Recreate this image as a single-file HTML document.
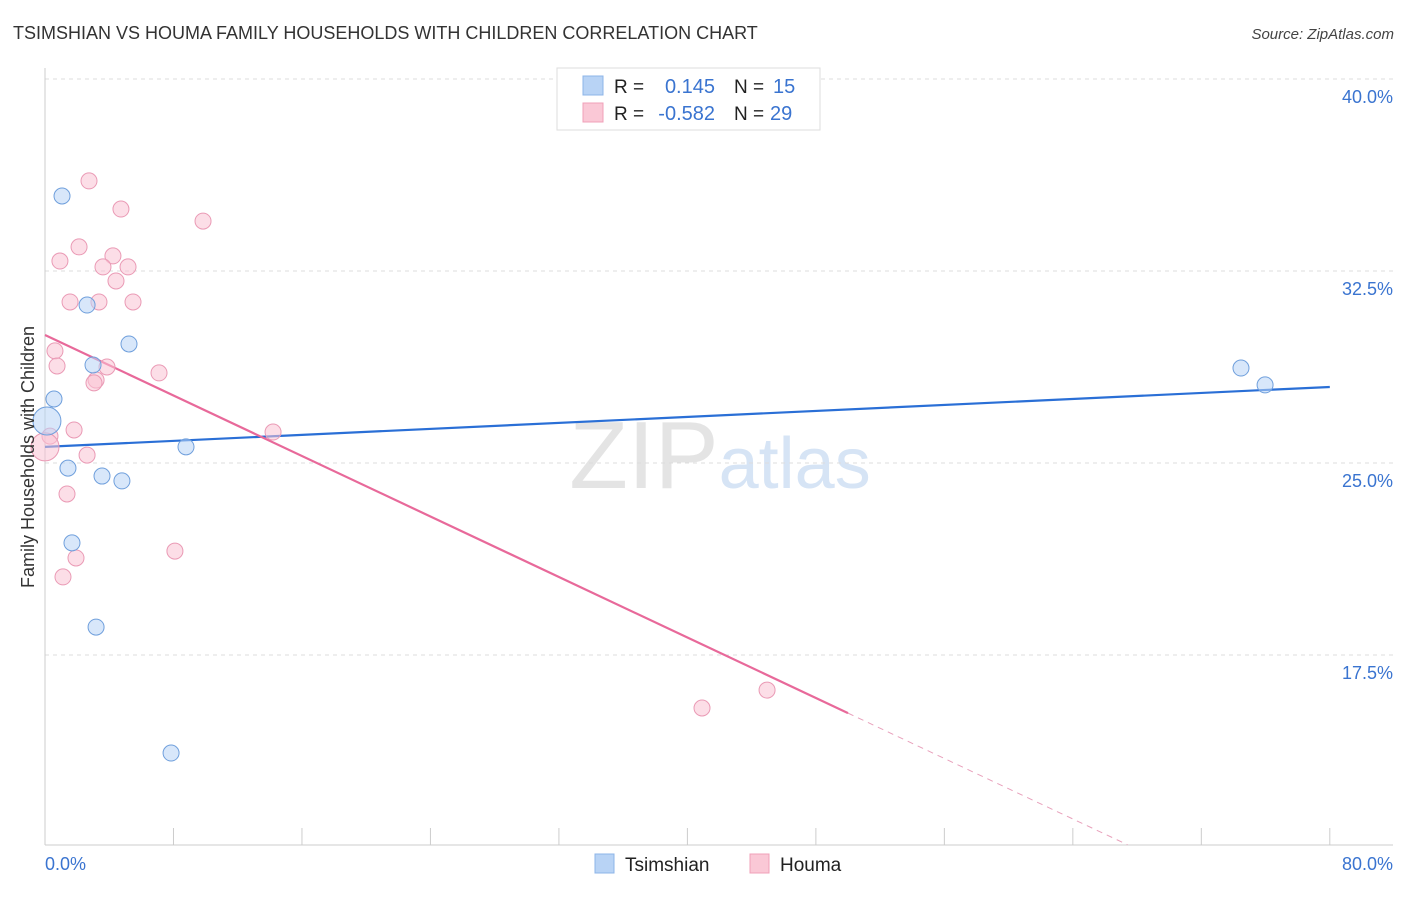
<!DOCTYPE html>
<html><head><meta charset="utf-8"><style>
body{margin:0;background:#fff;font-family:"Liberation Sans",sans-serif;}
svg text{font-family:"Liberation Sans",sans-serif;}
</style></head><body>
<svg id="chart" width="1406" height="892" xmlns="http://www.w3.org/2000/svg">
<text x="13" y="39" font-size="18" fill="#333">TSIMSHIAN VS HOUMA FAMILY HOUSEHOLDS WITH CHILDREN CORRELATION CHART</text>
<text x="1394" y="39" font-size="15" fill="#444" text-anchor="end" font-style="italic">Source: ZipAtlas.com</text>
<text x="720" y="488" font-size="96" text-anchor="middle" fill="#e4e4e4" font-family="Liberation Serif">ZIP<tspan fill="#d6e4f5" font-family="Liberation Sans" font-size="72">atlas</tspan></text>
<g id="grid"></g><g id="axes"></g><g id="lines"></g><g id="points"></g>
<text transform="translate(34,457) rotate(-90)" font-size="18" fill="#333" text-anchor="middle">Family Households with Children</text>
<text x="45" y="870" font-size="18" fill="#3a74d0">0.0%</text>
<text x="1393" y="870" font-size="18" fill="#3a74d0" text-anchor="end">80.0%</text>
<g>
<rect x="557" y="68" width="263" height="62" fill="#fff" stroke="#ddd"/>
<rect x="583" y="76" width="20" height="19" fill="#b8d3f5" stroke="#8db4e8"/>
<rect x="583" y="103" width="20" height="19" fill="#fac8d6" stroke="#f0a0b8"/>
<text x="614" y="93" font-size="19" fill="#222">R =</text><text x="715" y="93" font-size="20" fill="#3a74d0" text-anchor="end">0.145</text>
<text x="734" y="93" font-size="19" fill="#222">N =</text><text x="773" y="93" font-size="20" fill="#3a74d0">15</text>
<text x="614" y="120" font-size="19" fill="#222">R =</text><text x="715" y="120" font-size="20" fill="#3a74d0" text-anchor="end">-0.582</text>
<text x="734" y="120" font-size="19" fill="#222">N =</text><text x="770" y="120" font-size="20" fill="#3a74d0">29</text>
</g>
<g>
<rect x="595" y="854" width="19" height="19" fill="#b8d3f5" stroke="#8db4e8"/>
<text x="625" y="871" font-size="19" fill="#222">Tsimshian</text>
<rect x="750" y="854" width="19" height="19" fill="#fac8d6" stroke="#f0a0b8"/>
<text x="780" y="871" font-size="19" fill="#222">Houma</text>
</g>
</svg>
<script>
const yTicks=[40,32.5,25,17.5];
const yTickLabels=["40.0%","32.5%","25.0%","17.5%"];
const xTicks=[0,8,16,24,32,40,48,56,64,72,80];
const blueX=[1.06,2.62,5.23,2.99,0.56,0.12,1.43,3.55,4.79,8.78,1.68,3.18,7.85,74.47,75.97];
const blueY=[35.43,31.17,29.65,28.83,27.5,26.64,24.8,24.49,24.3,25.63,21.88,18.59,13.67,28.71,28.05];
const pinkX=[2.74,4.73,9.84,2.12,0.93,4.23,3.61,5.17,4.42,1.56,3.36,5.48,0.62,0.75,3.86,3.18,3.05,7.10,0.31,1.81,2.62,14.2,1.37,1.93,1.12,8.09,44.96,40.91,0];
const pinkY=[36.02,34.92,34.45,33.44,32.89,33.09,32.66,32.66,32.11,31.29,31.29,31.29,29.38,28.79,28.75,28.24,28.13,28.52,26.05,26.29,25.31,26.21,23.79,21.29,20.55,21.56,16.13,15.43,25.63];
const blueLine=[[0,25.63],[80,27.97]];
const pinkLine=[[0,30.0],[50,15.23]];
const pinkDash=[[50,15.23],[67.4,10.09]];
const X=v=>45+v*16.06, Y=v=>463-(v-25)*25.6;
const NS="http://www.w3.org/2000/svg";
function mk(p,t,a){const e=document.createElementNS(NS,t);for(const k in a)e.setAttribute(k,a[k]);document.getElementById(p).appendChild(e);return e;}
yTicks.forEach((t,i)=>{
 const l=mk('grid','line',{x1:45,x2:1393,y1:Y(t),y2:Y(t),stroke:'#ddd','stroke-dasharray':'4,4'});
 
 
 const tx=mk('grid','text',{x:1393,y:Y(t)+24,'font-size':18,fill:'#3a74d0','text-anchor':'end'});
 tx.textContent=yTickLabels[i];
 
 
});
const ax=mk('axes','line',{x1:45,x2:45,y1:68,y2:845,stroke:'#ccc'});


const bx=mk('axes','line',{x1:45,x2:1393,y1:845,y2:845,stroke:'#ccc'});


xTicks.forEach(t=>{
 const l=mk('axes','line',{x1:X(t),x2:X(t),y1:828,y2:845,stroke:'#ccc'});
 
 
});
function ln(s,c,w,d,n){const l=mk('lines','line',{x1:X(s[0][0]),y1:Y(s[0][1]),x2:X(s[1][0]),y2:Y(s[1][1]),stroke:c,'stroke-width':w});if(d)l.setAttribute('stroke-dasharray',d);
 
 }
ln(blueLine,'#2a6fd6',2.2,null,'tsimshian-trend-line');
ln(pinkLine,'#e8699a',2.2,null,'houma-trend-line');
ln(pinkDash,'#e8a0bb',1,'6,5','houma-trend-extension');
function pts(xs,ys,f,s,n){xs.forEach((x,i)=>{const big=(x<0.2);const c=mk('points','circle',{cx:X(x),cy:Y(ys[i]),r:big?14:8,fill:f,'fill-opacity':0.55,stroke:s,'stroke-width':1});
 
 });}
pts(pinkX,pinkY,'#f9c3d3','#ea9ab5','houma-point');
pts(blueX,blueY,'#b8d3f5','#6f9fdc','tsimshian-point');
</script>
</body></html>
